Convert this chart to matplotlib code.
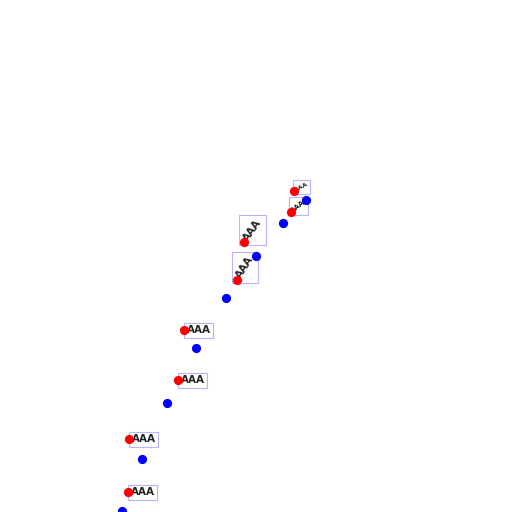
import matplotlib
matplotlib.use("Agg")
import matplotlib.pyplot as plt
from matplotlib.patches import Rectangle
import numpy as np

blue_x = [122, 142, 167, 196, 226, 256, 283, 306]
blue_y = [1, 53, 109, 164, 214, 256, 289, 312]
red_x = [128, 129, 178, 184, 237, 244, 291, 294]
red_y = [20, 73, 132, 182, 232, 270, 300, 321]
labels = ["AAA"] * 8
rotations = [0, 0, 0, 0, 58, 55, 38, 28]
sizes = [7.5, 7.5, 7.5, 7.5, 7.5, 7.5, 5, 4.5]

fig = plt.figure(figsize=(5.12, 5.12), dpi=100)
ax = fig.add_axes([0, 0, 1, 1])
ax.set_xlim(0, 512)
ax.set_ylim(0, 512)
ax.axis("off")

ax.scatter(blue_x, blue_y, s=44, c="blue", zorder=3, linewidths=0)
ax.scatter(red_x, red_y, s=44, c="red", zorder=3, linewidths=0)

pads = [2.5, 2.5, 2.5, 2.5, 2.5, 2.5, 1.5, 1.0]
texts = []
for x, y, lab, r, fs, pad in zip(red_x, red_y, labels, rotations, sizes, pads):
    dx = pad * np.cos(np.radians(r))
    dy = pad * np.sin(np.radians(r))
    t = ax.annotate(lab, (x, y), xytext=(dx, dy), textcoords="offset pixels",
                    rotation=r, rotation_mode="anchor", ha="left", va="center",
                    fontsize=fs, fontweight="bold", color="#222222", zorder=2)
    texts.append((t, pad))

fig.canvas.draw()
renderer = fig.canvas.get_renderer()
inv = ax.transData.inverted()
for t, pad in texts:
    bb = t.get_window_extent(renderer)
    (x0, y0), (x1, y1) = inv.transform([[bb.x0 - pad, bb.y0 - pad], [bb.x1 + pad, bb.y1 + pad]])
    ax.add_patch(Rectangle((x0, y0), x1 - x0, y1 - y0, fill=False,
                           ec="#b4b4ff", lw=0.8, zorder=1))

fig.savefig("out.png", dpi=100)
